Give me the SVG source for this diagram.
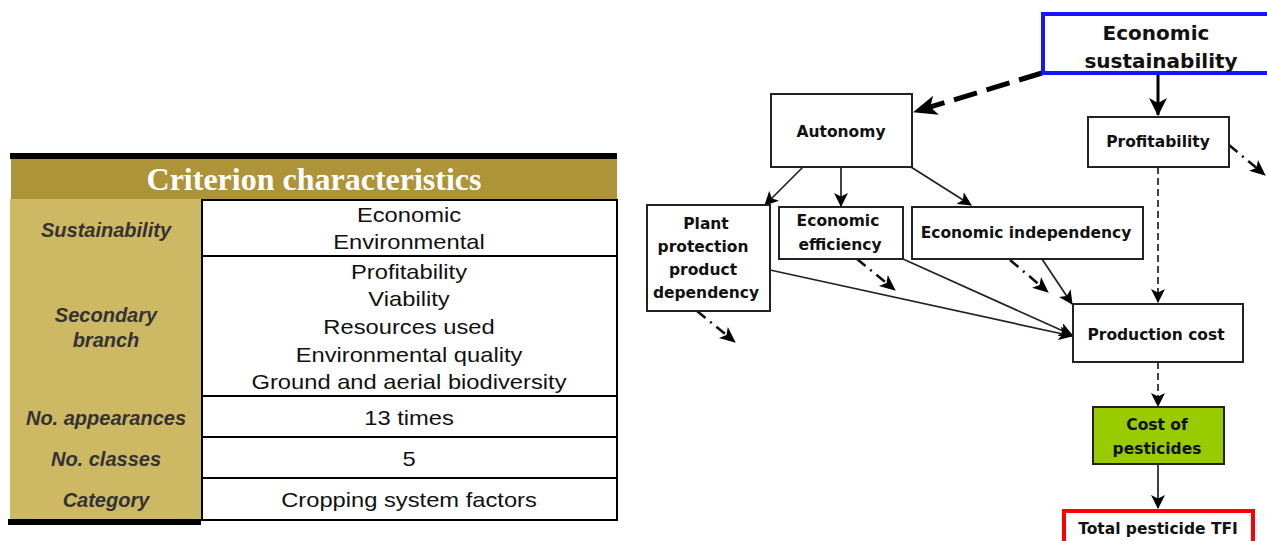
<svg xmlns="http://www.w3.org/2000/svg" width="1267" height="541" viewBox="0 0 1267 541">
<style>
.hd{font-family:"Liberation Serif",serif;font-weight:bold;font-size:32px;fill:#fff}
.lb{font-family:"Liberation Sans",Arial,sans-serif;font-weight:bold;font-style:italic;font-size:20px;fill:#333}
.tx{font-family:"Liberation Sans",Arial,sans-serif;font-size:21px;fill:#111}
.cell{fill:#fff;stroke:#000;stroke-width:2}
.box{fill:#fff;stroke:#222;stroke-width:2}
.nt{font-family:"DejaVu Sans",sans-serif;font-weight:bold;font-size:15.5px;fill:#111}
.c{fill:none;stroke:#222;stroke-width:1.7}
.dd{fill:none;stroke:#111;stroke-width:2.6;stroke-dasharray:11,6,2,6}
</style>
<defs>
<marker id="ah" markerWidth="14" markerHeight="14" refX="13" refY="7" orient="auto" markerUnits="userSpaceOnUse">
<path d="M0,0 L14,7 L0,14 L3.5,7 z" fill="#000"/>
</marker>
<marker id="ahd" markerWidth="16" markerHeight="16" refX="15" refY="8" orient="auto" markerUnits="userSpaceOnUse">
<path d="M0,1 L16,8 L0,15 L4,8 z" fill="#000"/>
</marker>
<marker id="ahb" markerWidth="24" markerHeight="20" refX="23" refY="10" orient="auto" markerUnits="userSpaceOnUse">
<path d="M0,0 L24,10 L0,20 L6,10 z" fill="#000"/>
</marker>
<marker id="ahm" markerWidth="18" markerHeight="18" refX="17" refY="9" orient="auto" markerUnits="userSpaceOnUse">
<path d="M0,0 L18,9 L0,18 L5,9 z" fill="#000"/>
</marker>
</defs>

<g id="table">
<rect x="10" y="153" width="607" height="6" fill="#000"/>
<rect x="11" y="159" width="606" height="40" fill="#ad9439"/>
<text class="hd" x="314" y="190" text-anchor="middle">Criterion characteristics</text>
<rect x="10" y="199" width="191" height="321" fill="#cdb863"/>
<rect x="8" y="519" width="193" height="6" fill="#000"/>
<rect class="cell" x="202" y="200" width="415" height="56"/>
<rect class="cell" x="202" y="256" width="415" height="140"/>
<rect class="cell" x="202" y="396" width="415" height="41"/>
<rect class="cell" x="202" y="437" width="415" height="41"/>
<rect class="cell" x="202" y="478" width="415" height="42"/>
<text class="lb" x="106" y="237" text-anchor="middle">Sustainability</text>
<text class="lb" x="106" y="322" text-anchor="middle">Secondary</text>
<text class="lb" x="106" y="347" text-anchor="middle">branch</text>
<text class="lb" x="106" y="425" text-anchor="middle">No. appearances</text>
<text class="lb" x="106" y="466" text-anchor="middle">No. classes</text>
<text class="lb" x="106" y="507" text-anchor="middle">Category</text>
<g transform="translate(409,0) scale(1.13,1)">
<text class="tx" x="0" y="222" text-anchor="middle">Economic</text>
<text class="tx" x="0" y="249" text-anchor="middle">Environmental</text>
<text class="tx" x="0" y="279" text-anchor="middle">Profitability</text>
<text class="tx" x="0" y="306" text-anchor="middle">Viability</text>
<text class="tx" x="0" y="334" text-anchor="middle">Resources used</text>
<text class="tx" x="0" y="362" text-anchor="middle">Environmental quality</text>
<text class="tx" x="0" y="389" text-anchor="middle">Ground and aerial biodiversity</text>
<text class="tx" x="0" y="425" text-anchor="middle">13 times</text>
<text class="tx" x="0" y="466" text-anchor="middle">5</text>
<text class="tx" x="0" y="507" text-anchor="middle">Cropping system factors</text>
</g>
</g>

<g id="connectors">
<path d="M1042,73 L914,112" fill="none" stroke="#000" stroke-width="5" stroke-dasharray="24,10" marker-end="url(#ahb)"/>
<path d="M1158,74 L1158,115" fill="none" stroke="#000" stroke-width="3" marker-end="url(#ahm)"/>
<path class="c" d="M803,167 L765,205" marker-end="url(#ah)"/>
<path class="c" d="M841,167 L841,206" marker-end="url(#ah)"/>
<path class="c" d="M911,167 L971,205" marker-end="url(#ah)"/>
<path class="c" d="M1158,167 L1158,302" stroke-dasharray="7,4" marker-end="url(#ah)"/>
<path class="dd" d="M1229,145 L1265,175" marker-end="url(#ahd)"/>
<path class="dd" d="M857,259 L895,290" marker-end="url(#ahd)"/>
<path class="dd" d="M697,311 L735,342" marker-end="url(#ahd)"/>
<path class="dd" d="M1010,260 L1048,292" marker-end="url(#ahd)"/>
<path class="c" d="M1042,259 L1072,304" marker-end="url(#ah)"/>
<path class="c" d="M903,259 L1072,335" marker-end="url(#ah)"/>
<path class="c" d="M770,270 L1072,336" marker-end="url(#ah)"/>
<path class="c" d="M1158,362 L1158,406" stroke-dasharray="7,4" marker-end="url(#ah)"/>
<path class="c" d="M1158,464 L1158,508" marker-end="url(#ah)"/>
</g>

<g id="econ-sust">
<rect x="1043" y="14" width="240" height="59" fill="#fff" stroke="#1515ff" stroke-width="4"/>
<text class="nt" style="font-size:20px" x="1156" y="40" text-anchor="middle">Economic</text>
<text class="nt" style="font-size:20px" x="1161" y="68" text-anchor="middle">sustainability</text>
</g>
<g id="profitability">
<rect class="box" x="1088" y="117" width="141" height="50"/>
<text class="nt" x="1158" y="147" text-anchor="middle">Profitability</text>
</g>
<g id="autonomy">
<rect class="box" x="771" y="94" width="141" height="73"/>
<text class="nt" x="841" y="137" text-anchor="middle">Autonomy</text>
</g>
<g id="plant">
<rect class="box" x="647" y="205" width="123" height="106"/>
<text class="nt" x="706" y="229" text-anchor="middle">Plant</text>
<text class="nt" x="703" y="252" text-anchor="middle">protection</text>
<text class="nt" x="703" y="275" text-anchor="middle">product</text>
<text class="nt" x="706" y="298" text-anchor="middle">dependency</text>
</g>
<g id="efficiency">
<rect class="box" x="779" y="207" width="124" height="52"/>
<text class="nt" x="838" y="226" text-anchor="middle">Economic</text>
<text class="nt" x="840" y="250" text-anchor="middle">efficiency</text>
</g>
<g id="independency">
<rect class="box" x="912" y="207" width="231" height="52"/>
<text class="nt" x="1026" y="238" text-anchor="middle">Economic independency</text>
</g>
<g id="production">
<rect class="box" x="1073" y="304" width="170" height="58"/>
<text class="nt" x="1156" y="340" text-anchor="middle">Production cost</text>
</g>
<g id="cost-pest">
<rect x="1093" y="407" width="131" height="57" fill="#99cc00" stroke="#222" stroke-width="2"/>
<text class="nt" x="1157" y="430" text-anchor="middle">Cost of</text>
<text class="nt" x="1157" y="454" text-anchor="middle">pesticides</text>
</g>
<g id="tfi">
<rect x="1064" y="511" width="189" height="40" fill="#fff" stroke="#ff0000" stroke-width="4"/>
<text class="nt" x="1158" y="534" text-anchor="middle">Total pesticide TFI</text>
</g>
</svg>
